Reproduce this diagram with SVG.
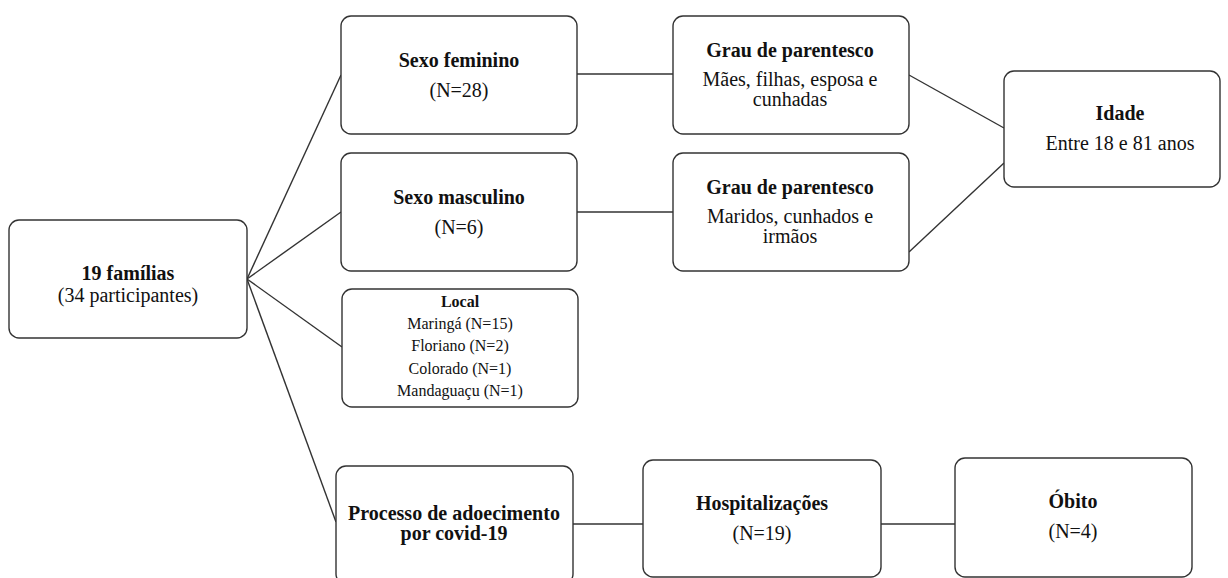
<svg xmlns="http://www.w3.org/2000/svg" width="1228" height="578" viewBox="0 0 1228 578">
<style>
.box{fill:#fff;stroke:#333;stroke-width:1.4}
.ln{stroke:#333;stroke-width:1.4;fill:none}
text{font-family:"Liberation Serif","Times New Roman",serif;fill:#111;text-anchor:middle}
.b{font-weight:bold;font-size:20px}
.r{font-size:20px}
.bs{font-weight:bold;font-size:16px}
.rs{font-size:16px}
</style>
<rect width="1228" height="578" fill="#fff"/>
<g id="connectors">
<line class="ln" x1="247" y1="279" x2="341" y2="75"/>
<line class="ln" x1="247" y1="279" x2="341" y2="212"/>
<line class="ln" x1="247" y1="279" x2="342" y2="347"/>
<line class="ln" x1="247" y1="279" x2="336" y2="522"/>
<line class="ln" x1="577" y1="74" x2="673" y2="74"/>
<line class="ln" x1="577" y1="212" x2="673" y2="212"/>
<line class="ln" x1="909" y1="75" x2="1004" y2="128"/>
<line class="ln" x1="909" y1="252" x2="1004" y2="163"/>
<line class="ln" x1="573" y1="524" x2="643" y2="524"/>
<line class="ln" x1="881" y1="524" x2="955" y2="524"/>
</g>
<g id="familias">
<rect class="box" x="9" y="220" width="238" height="118" rx="10"/>
<text class="b" x="128" y="280">19 famílias</text>
<text class="r" x="128" y="302">(34 participantes)</text>
</g>
<g id="sexo-feminino">
<rect class="box" x="341" y="16" width="236" height="118" rx="10"/>
<text class="b" x="459" y="67">Sexo feminino</text>
<text class="r" x="459" y="97">(N=28)</text>
</g>
<g id="sexo-masculino">
<rect class="box" x="341" y="153" width="236" height="118" rx="10"/>
<text class="b" x="459" y="204">Sexo masculino</text>
<text class="r" x="459" y="234">(N=6)</text>
</g>
<g id="local">
<rect class="box" x="342" y="289" width="236" height="118" rx="10"/>
<text class="bs" x="460" y="307">Local</text>
<text class="rs" x="460" y="329">Maringá (N=15)</text>
<text class="rs" x="460" y="351">Floriano (N=2)</text>
<text class="rs" x="460" y="374">Colorado (N=1)</text>
<text class="rs" x="460" y="396">Mandaguaçu (N=1)</text>
</g>
<g id="grau-feminino">
<rect class="box" x="673" y="16" width="236" height="118" rx="10"/>
<text class="b" x="790" y="57">Grau de parentesco</text>
<text class="r" x="790" y="86">Mães, filhas, esposa e</text>
<text class="r" x="790" y="106">cunhadas</text>
</g>
<g id="grau-masculino">
<rect class="box" x="673" y="153" width="236" height="118" rx="10"/>
<text class="b" x="790" y="194">Grau de parentesco</text>
<text class="r" x="790" y="223">Maridos, cunhados e</text>
<text class="r" x="790" y="243">irmãos</text>
</g>
<g id="idade">
<rect class="box" x="1004" y="71" width="216" height="116" rx="10"/>
<text class="b" x="1120" y="120">Idade</text>
<text class="r" x="1120" y="150">Entre 18 e 81 anos</text>
</g>
<g id="processo">
<rect class="box" x="336" y="466" width="237" height="118" rx="10"/>
<text class="b" x="454" y="520">Processo de adoecimento</text>
<text class="b" x="454" y="540">por covid-19</text>
</g>
<g id="hospitalizacoes">
<rect class="box" x="643" y="460" width="238" height="117" rx="10"/>
<text class="b" x="762" y="510">Hospitalizações</text>
<text class="r" x="762" y="540">(N=19)</text>
</g>
<g id="obito">
<rect class="box" x="955" y="458" width="237" height="119" rx="10"/>
<text class="b" x="1073" y="508">Óbito</text>
<text class="r" x="1073" y="538">(N=4)</text>
</g>
</svg>
